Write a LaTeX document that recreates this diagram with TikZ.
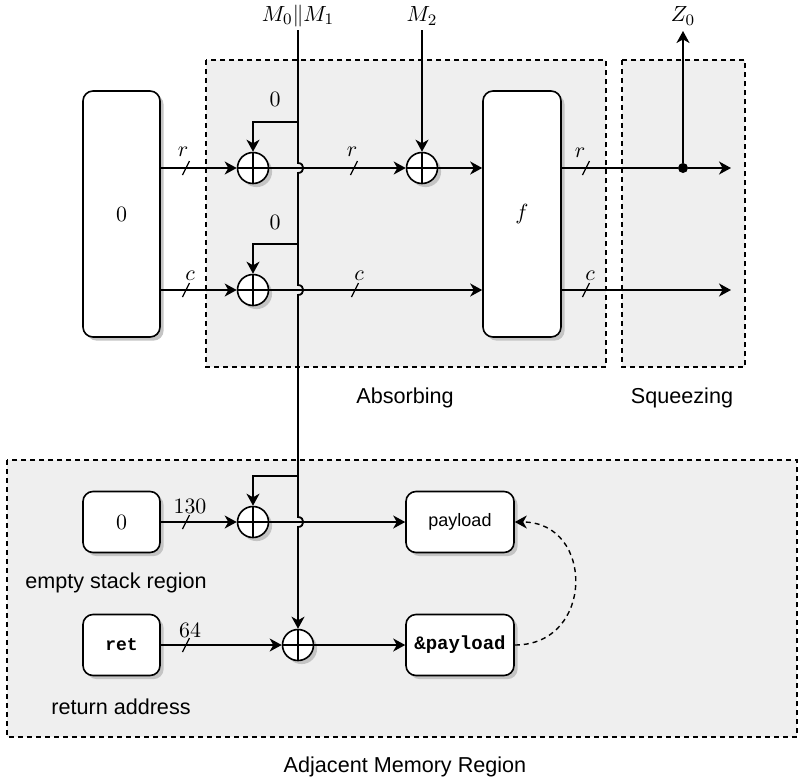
\documentclass[tikz,border=0pt]{standalone}
\usepackage{fontspec}
\newfontfamily\hv{Liberation Sans}
\newfontfamily\cour{Liberation Mono}
\usetikzlibrary{arrows.meta,shadows}
\definecolor{bgfill}{HTML}{EFEFEF}
\definecolor{shad}{HTML}{C4C4C4}
\begin{document}
\begin{tikzpicture}[x=0.5pt,y=-0.5pt,
  ln/.style={line width=0.9pt},
  arr/.style={ln,-{Stealth[length=6pt,width=6.5pt,inset=1.8pt]}},
  region/.style={draw,fill=bgfill,dash pattern=on 2.5pt off 2pt,line width=0.6pt},
  shd/.style={drop shadow={shadow xshift=1.8pt,shadow yshift=-1.8pt,fill=shad,opacity=1}},
  blk/.style={draw,fill=white,rounded corners=5pt,line width=0.8pt,shd,inner sep=0pt,
              font=\fontsize{10.8}{13}\selectfont},
  xorn/.style={circle,draw,fill=white,minimum size=15.5pt,inner sep=0pt,line width=0.8pt,shd,
    path picture={\draw[line width=0.8pt] (path picture bounding box.north) -- (path picture bounding box.south)
                  (path picture bounding box.west) -- (path picture bounding box.east);}},
  lab/.style={font=\fontsize{10.8}{13}\selectfont,inner sep=0pt},
  captxt/.style={font=\hv\fontsize{10.8}{13}\selectfont,inner sep=0pt},
  slashm/.style={line width=0.6pt}]
\useasboundingbox (0,0) rectangle (803,782);

% regions
\draw[region] (206,60) rectangle (606,367);
\draw[region] (622,60) rectangle (745,367);
\draw[region] (7,460) rectangle (797,737);

% captions
\node[captxt] (cabs) at (405,398) {Absorbing};
\node[captxt] (csq) at (682,398) {Squeezing};
\node[captxt] (cadj) at (405,767) {Adjacent Memory Region};
\node[captxt] (cemp) at (116,583) {empty stack region};
\node[captxt] (cret) at (121,707) {return address};

% top labels
\node[lab] (m01) at (298,16) {$M_0\|M_1$};
\node[lab] (m2) at (422,16) {$M_2$};
\node[lab] (z0) at (683,16) {$Z_0$};
\coordinate (mtop) at (298,30);
\coordinate (m2top) at (422,30);
\coordinate (ztip) at (683,31);

% blocks
\node[blk,minimum width=38.5pt,minimum height=123pt] (blk0) at (121.5,214) {$0$};
\node[blk,minimum width=39pt,minimum height=123pt] (f) at (522,214) {$f$};
\node[blk,minimum width=38.5pt,minimum height=30.5pt] (zero) at (121.5,522) {$0$};
\node[blk,minimum width=38.5pt,minimum height=30.5pt,font=\cour\bfseries\fontsize{9}{11}\selectfont] (ret) at (121.5,645) {ret};
\node[blk,minimum width=54pt,minimum height=30.5pt,font=\hv\fontsize{9}{11}\selectfont] (pay) at (460,522) {payload};
\node[blk,minimum width=54pt,minimum height=30.5pt,font=\cour\bfseries\fontsize{9.5}{11}\selectfont] (apay) at (460,645) {\&payload};

% xor nodes
\node[xorn] (x1) at (253,168) {};
\node[xorn] (x2) at (422,168) {};
\node[xorn] (xc) at (253,290) {};
\node[xorn] (x3) at (253,522) {};
\node[xorn] (x4) at (298,645) {};

\node[circle,fill,inner sep=0pt,minimum size=5pt] (dot) at (683,168) {};
\coordinate (rend) at (731,168);
\coordinate (cend) at (731,290);
\coordinate (b1) at (298,122);
\coordinate (b2) at (298,244);
\coordinate (b3) at (298,476);

% zero labels
\node[lab] (z1) at (275,99) {$0$};
\node[lab] (z2) at (275,222) {$0$};

% main vertical line with hops
\draw[arr] (mtop) -- (298,163) .. controls (305,163) and (305,173) .. (298,173)
  -- (298,285) .. controls (305,285) and (305,295) .. (298,295)
  -- (298,517) .. controls (305,517) and (305,527) .. (298,527) -- (x4);

% branches
\draw[arr] (b1) -| (x1);
\draw[arr] (b2) -| (xc);
\draw[arr] (b3) -| (x3);
\draw[arr] (m2top) -- (x2);

% rate lines
\draw[arr] (blk0.east |- x1) -- (x1);
\draw[arr] (x1) -- (x2);
\draw[arr] (x2) -- (f.west |- x2);
\draw[ln] (f.east |- x2) -- (dot);
\draw[arr] (dot) -- (rend);
\draw[arr] (dot) -- (ztip);

% capacity lines
\draw[arr] (blk0.east |- xc) -- (xc);
\draw[arr] (xc) -- (f.west |- xc);
\draw[arr] (f.east |- xc) -- (cend);

% bottom
\draw[arr] (zero) -- (x3);
\draw[arr] (x3) -- (pay);
\draw[arr] (ret) -- (x4);
\draw[arr] (x4) -- (apay);
\draw[arr,line width=0.7pt,dash pattern=on 2.5pt off 2pt] (apay.east) .. controls +(80,0) and +(80,0) .. (pay.east);

% slashes and width labels
\draw[slashm] (182.5,175) -- (189.5,161);
\draw[slashm] (350.5,175) -- (357.5,161);
\draw[slashm] (582.5,175) -- (589.5,161);
\draw[slashm] (182.5,297) -- (189.5,283);
\draw[slashm] (351.5,297) -- (358.5,283);
\draw[slashm] (582.5,297) -- (589.5,283);
\draw[slashm] (182.5,529) -- (189.5,515);
\draw[slashm] (182.5,652) -- (189.5,638);
\node[lab] (lr1) at (183,152) {$r$};
\node[lab] (lr2) at (352,152) {$r$};
\node[lab] (lr3) at (580,153) {$r$};
\node[lab] (lc1) at (190,276) {$c$};
\node[lab] (lc2) at (359,276) {$c$};
\node[lab] (lc3) at (590,276) {$c$};
\node[lab] (l130) at (190,506) {$130$};
\node[lab] (l64) at (190,630) {$64$};
\end{tikzpicture}
\end{document}
